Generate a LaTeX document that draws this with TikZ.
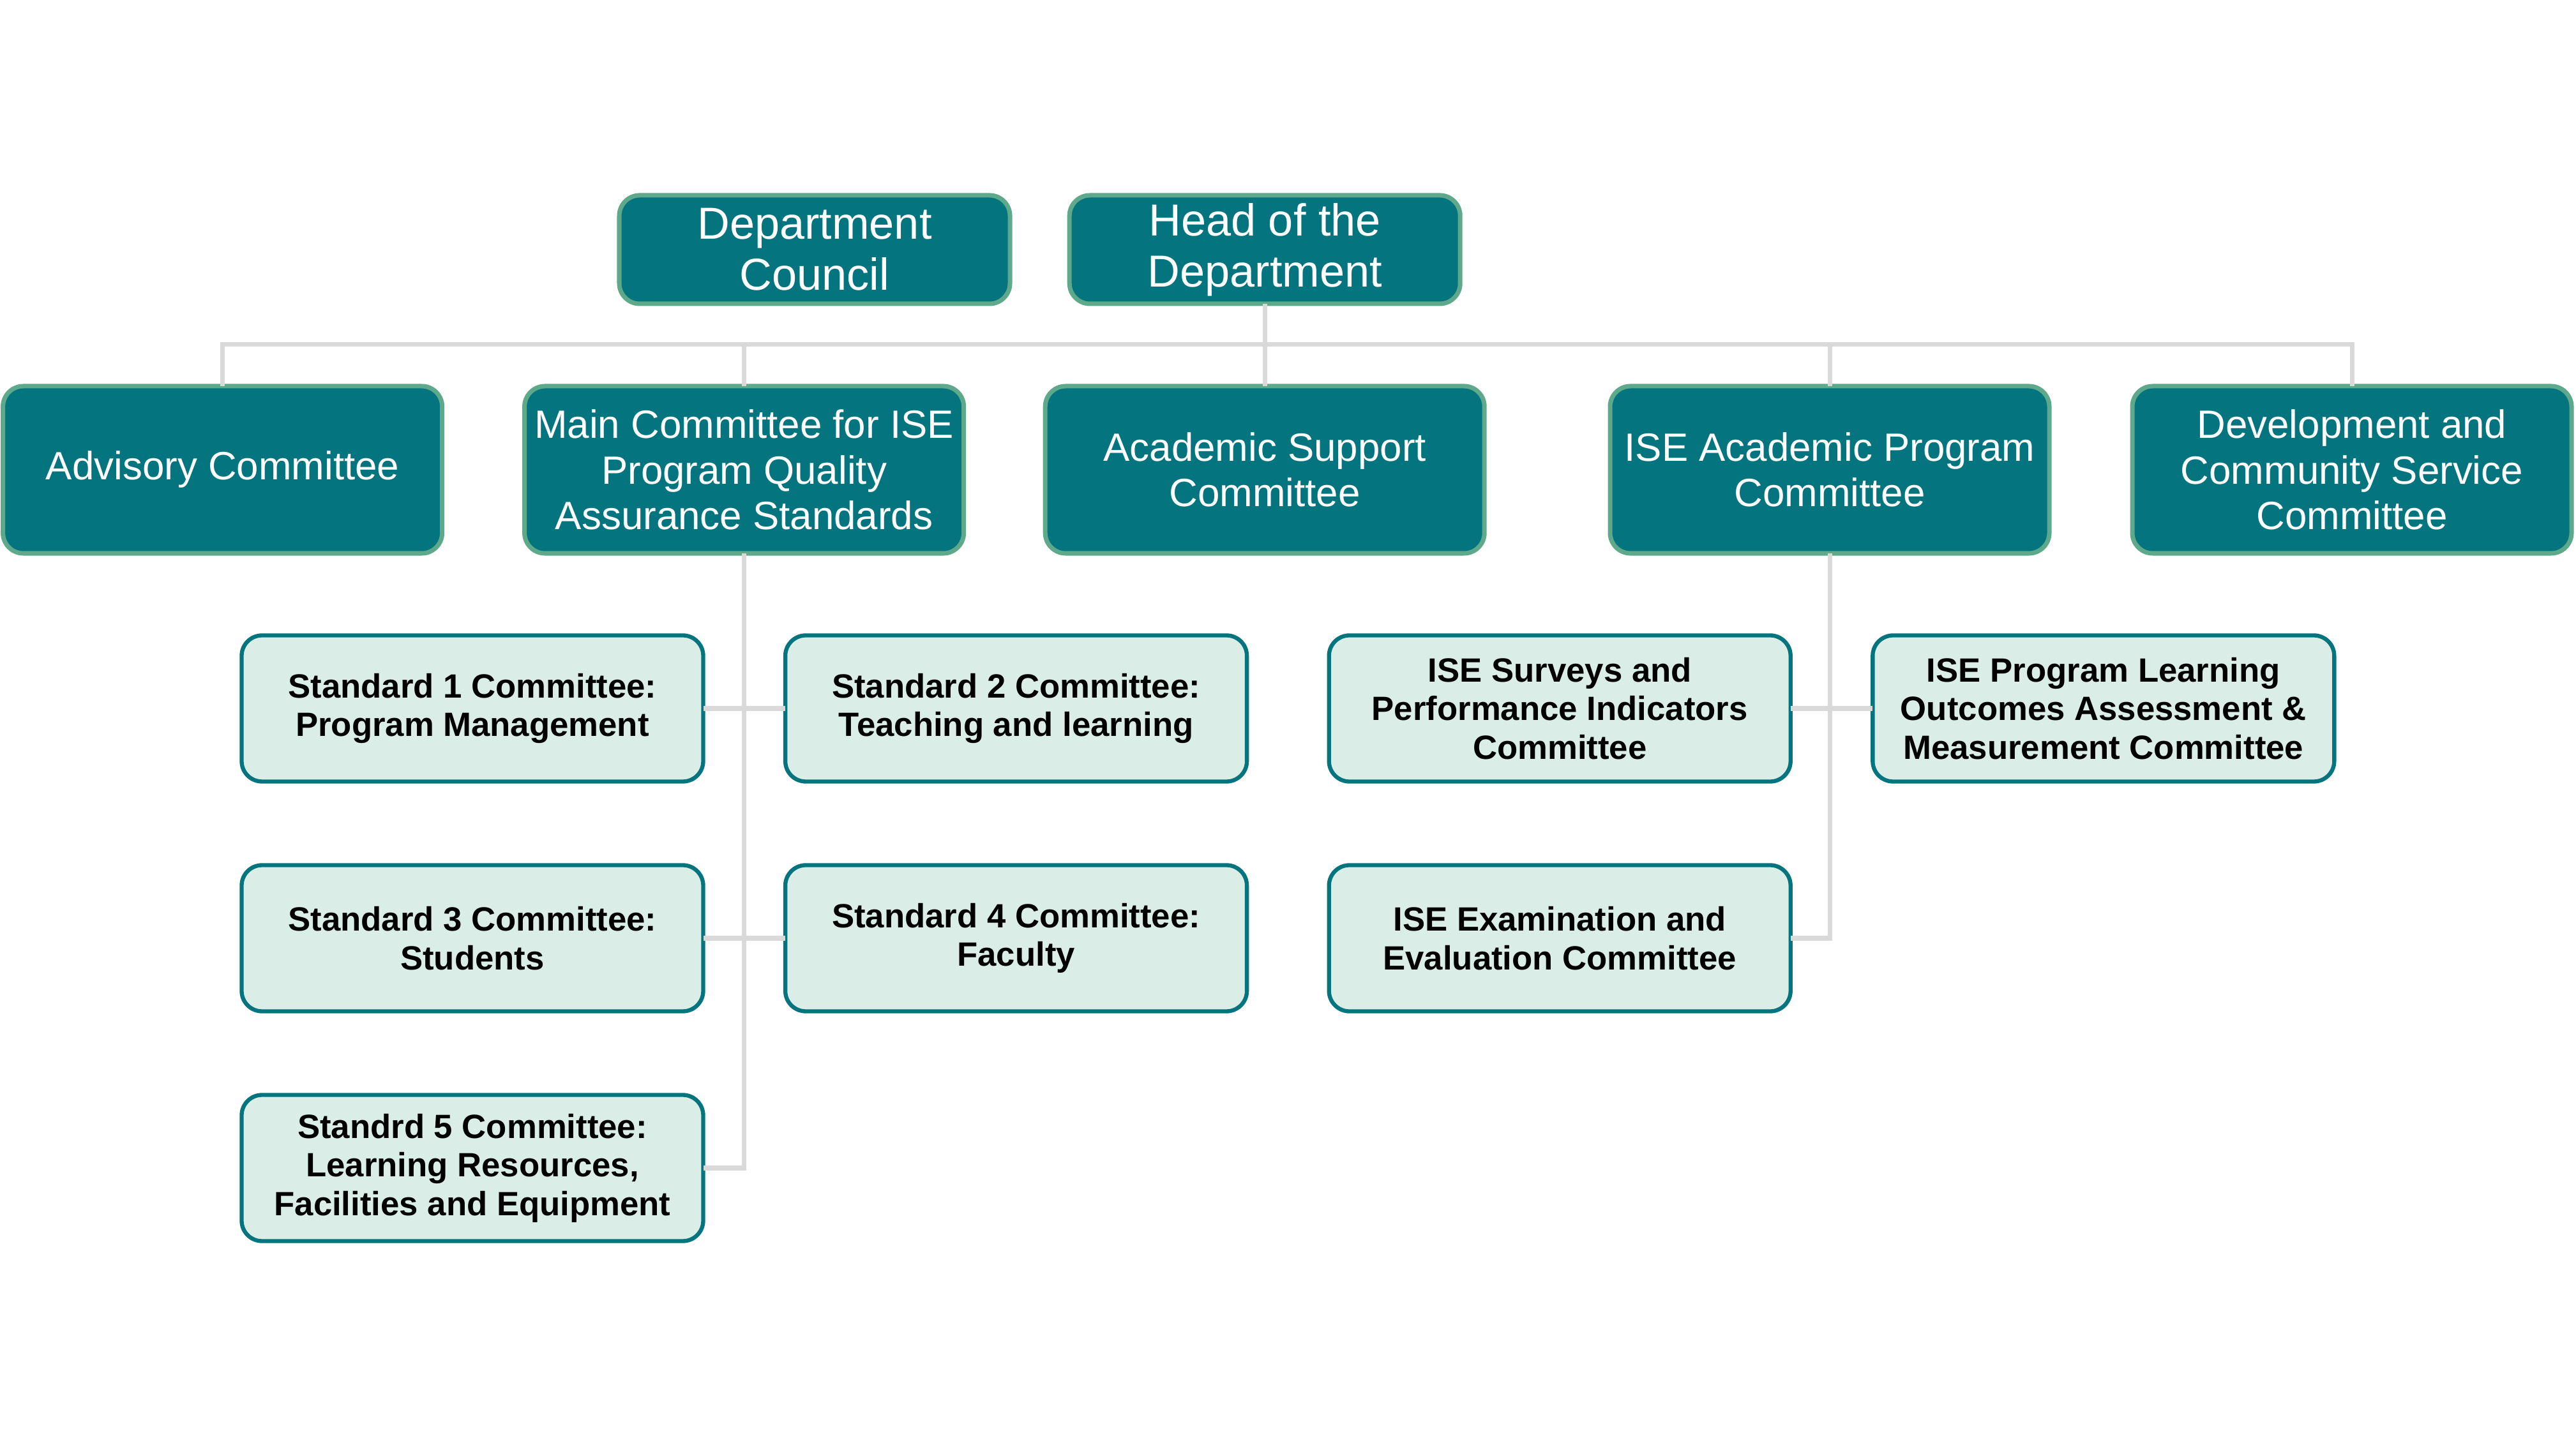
\documentclass[tikz,border=0pt]{standalone}
\usepackage{fontspec}
\setmainfont{Liberation Sans}
\usetikzlibrary{positioning}
\definecolor{ise-teal}{HTML}{04747E}
\definecolor{ise-sage}{HTML}{5EA98B}
\definecolor{ise-mint}{HTML}{DAEDE6}
\definecolor{ise-grey}{HTML}{D9D9D9}

\begin{document}
\begin{tikzpicture}[node distance=0.645cm,
    topbox/.style={draw=ise-sage, line width=1pt, fill=ise-teal, text=white, rounded corners=0.16cm,
        align=center, inner sep=0pt, outer sep=0pt, minimum width=3.06cm, minimum height=0.85cm,
        font=\fontsize{10}{11.4}\selectfont},
    combox/.style={topbox, minimum width=3.44cm, minimum height=1.31cm,
        font=\fontsize{8.8}{10.2}\selectfont},
    subbox/.style={draw=ise-teal, line width=0.9pt, fill=ise-mint, text=black, rounded corners=0.16cm,
        align=center, inner sep=0pt, outer sep=0pt, minimum width=3.615cm, minimum height=1.145cm,
        font=\fontsize{7.5}{8.6}\selectfont\bfseries},
    link/.style={draw=ise-grey, line width=1pt}]
    \useasboundingbox (0,0) rectangle (20.175,-11.265);
    % committees
    \node[combox] (adv) at (1.743,-3.68) {Advisory Committee};
    \node[combox, right =of adv] (main) {Main Committee for ISE\\Program Quality\\Assurance Standards};
    \node[combox, right =0.638cm of main] (acad) {Academic Support\\Committee};
    \node[combox, right =0.984cm of acad] (prog) {ISE Academic Program\\Committee};
    \node[combox, right =0.65cm of prog] (dev) {Development and\\Community Service\\Committee};
    % top
    \node[topbox, above =of acad] (head) {Head of the\\Department};
    \node[topbox, left =0.466cm of head] (council) {Department\\Council};
    % standards
    \node[subbox, below =0.6425cm of main, xshift=-2.128cm] (std1) {Standard 1 Committee:\\Program Management};
    \node[subbox, right =0.643cm of std1] (std2) {Standard 2 Committee:\\Teaching and learning};
    \node[subbox, below =0.655cm of std1] (std3) {Standard 3 Committee:\\Students};
    \node[subbox, right =0.643cm of std3] (std4) {Standard 4 Committee:\\Faculty};
    \node[subbox, below =0.655cm of std3] (std5) {Standrd 5 Committee:\\Learning Resources,\\Facilities and Equipment};
    % program
    \node[subbox, right =0.643cm of std2] (surv) {ISE Surveys and\\Performance Indicators\\Committee};
    \node[subbox, right =0.643cm of surv] (plo) {ISE Program Learning\\Outcomes Assessment \&\\Measurement Committee};
    \node[subbox, below =0.655cm of surv] (exam) {ISE Examination and\\Evaluation Committee};
    % lines
    \coordinate (bus) at (0,-2.70);
    \draw[link] (head.south) -- (head.south |- bus);
    \draw[link] (adv.north) -- (adv.north |- bus) -- (dev.north |- bus) -- (dev.north);
    \foreach \n in {main, acad, prog}
        \draw[link] (\n.north) -- (\n.north |- bus);
    \draw[link] (main.south) |- (std5.east);
    \draw[link] (prog.south) |- (exam.east);
    \draw
    (std1) edge[link] (std2)
    (std3) edge[link] (std4)
    (surv) edge[link] (plo);
\end{tikzpicture}
\end{document}
